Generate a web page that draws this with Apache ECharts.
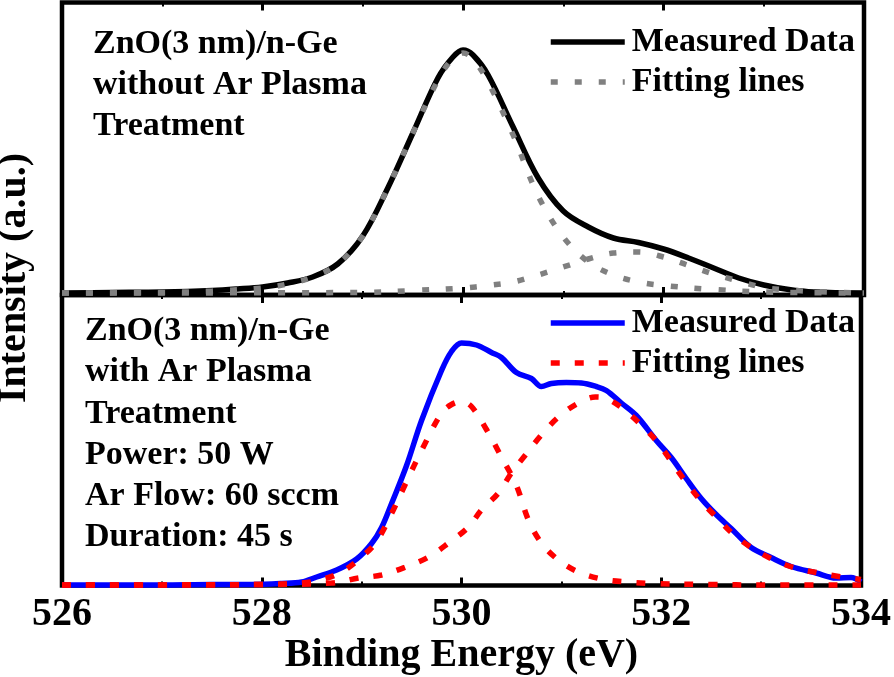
<!DOCTYPE html>
<html><head><meta charset="utf-8">
<script src="https://cdn.jsdelivr.net/npm/echarts@6/dist/echarts.min.js"></script>
<style>html,body{margin:0;padding:0;background:#fff}#c{width:894px;height:677px}</style>
</head><body><div id="c"></div><script>
// ---------- data (binding energy in eV, intensity in arbitrary units) ----------
const topMeasE = [526,526.5,527,527.5,527.75,528,528.25,528.5,528.75,529,529.25,529.5,529.75,529.9,530,530.1,530.25,530.5,530.75,531,531.25,531.5,531.75,532,532.25,532.5,532.75,533,533.25,533.5,534];
const topMeasI = [2,2.5,3,4.5,6,8,12,18,31,59,107,162,217,238,245,240,220,168,117,84,68,57,52.5,46,37,27,17,10,5.5,3,2];

const topFit1E = [526,527,527.5,528,528.25,528.5,528.75,529,529.25,529.5,529.75,529.9,530,530.1,530.25,530.5,530.75,531,531.25,531.5,531.75,532,532.5,533,534];
const topFit1I = [2,2.5,4,7,11,18,31,59,107,162,215,237,242,236,213,160,99,58,33,20,13,9.5,5.5,3,2];

const topFit2E = [526,529,529.5,530,530.25,530.5,530.75,531,531.25,531.5,531.75,532,532.25,532.5,532.75,533,533.25,533.5,534];
const topFit2I = [2,2.5,4.5,7,9.5,13,20,28,36,42,43,38,29.5,21,14,7.5,5,3.5,2];

const botMeasE = [526,526.5,527,527.5,527.9,528.2,528.4,528.55,528.75,528.95,529.1,529.2,529.3,529.45,529.6,529.8,529.9,530,530.15,530.3,530.4,530.55,530.7,530.8,530.9,531.05,531.2,531.35,531.45,531.6,531.75,531.95,532.1,532.25,532.4,532.55,532.7,532.9,533.1,533.3,533.55,533.75,533.9,534];
const botMeasI = [0.5,0.5,0.5,1,1,2,3.5,8.5,15.5,26.5,42,58,82,120,165,215,234,242.5,240.5,233,228,213,207,199,202,203,202.5,199,195,182.5,170,145,128,107,87,71,57,38,28,19,12.5,7.5,8,3.5];

const botFit1E = [526,527,528,528.4,528.6,528.8,529,529.15,529.3,529.45,529.6,529.8,529.9,530,530.1,530.25,530.4,530.55,530.67,530.8,530.97,531.17,531.4,531.65,531.9,532.5,533,534];
const botFit1I = [0.5,0.5,1,2.5,6,13.5,28.5,44,72,104,135,172.5,181,184,179,156,128.5,100,65.5,42.5,25.5,13.5,6.5,3.5,2,1,0.5,0.5];

const botFit2E = [526,528,528.7,528.97,529.2,529.44,529.67,529.87,530.07,530.2,530.37,530.5,530.64,530.8,530.97,531.17,531.34,531.45,531.62,531.8,531.97,532.11,532.24,532.39,532.56,532.73,532.91,533.13,533.34,533.58,533.81,534];
const botFit2I = [0.5,1,2.5,7.5,10.5,18.5,28.5,42.5,58.5,75.5,92.5,112.5,130.5,150.5,168.5,182.5,188.5,187,176.5,160.5,142.5,122.5,104.5,85.5,67.5,50.5,37.5,25.5,17.5,12.5,8.5,6];

const xMin = 526, xMax = 534, xStep = 2;
const legendText = {topMeas:'Measured Data', topFit:'Fitting lines', botMeas:'Measured Data', botFit:'Fitting lines'};
const topNote = ['ZnO(3 nm)/n-Ge','without Ar Plasma','Treatment'];
const botNote = ['ZnO(3 nm)/n-Ge','with Ar Plasma','Treatment','Power: 50 W','Ar Flow: 60 sccm','Duration: 45 s'];
const xTitle = 'Binding Energy (eV)';
const yTitle = 'Intensity (a.u.)';

// ---------- chart ----------
const FONT = "'Liberation Serif','Times New Roman',serif";
const zip = (a,b) => a.map((v,i)=>[v,b[i]]);
const chart = echarts.init(document.getElementById('c'), null, {renderer:'canvas'});

function mkX(gi, pos, labels){
  return {
    type:'value', gridIndex:gi, position:pos, min:xMin, max:xMax, interval:xStep,
    axisLine:{show:false},
    axisTick:{show:true, inside:true, length:8, lineStyle:{color:'#000', width:3}},
    minorTick:{show:true, splitNumber:2, length:4, lineStyle:{color:'#000', width:2}},
    splitLine:{show:false}, minorSplitLine:{show:false},
    axisLabel: labels ? {show:true, margin:9, color:'#000', fontSize:40, fontWeight:'bold', fontFamily:FONT} : {show:false},
    name: labels ? xTitle : '', nameLocation:'middle', nameGap:50,
    nameTextStyle:{color:'#000', fontSize:40, fontWeight:'bold', fontFamily:FONT}
  };
}
function ln(name, gi, e, v, color, width, type){
  return {
    type:'line', name, xAxisIndex:gi*2, yAxisIndex:gi, data:zip(e,v),
    symbol:'none', showSymbol:false, smooth:0.35,
    lineStyle:{color, width, type, cap:'butt'}, itemStyle:{color},
    emphasis:{disabled:true}, animation:false
  };
}
const legTS = {color:'#000', fontSize:34, fontWeight:'bold', fontFamily:FONT, lineHeight:30, padding:[0,0,0,2]};
const NOTE_FONT = "bold 34px " + FONT;
const graphics = [];
topNote.forEach((t,i)=>graphics.push({type:'text', x:93, y:44+i*41, style:{text:t, font:NOTE_FONT, fill:'#000', verticalAlign:'middle', align:'left'}}));
botNote.forEach((t,i)=>graphics.push({type:'text', x:85, y:331.5+i*41.2, style:{text:t, font:NOTE_FONT, fill:'#000', verticalAlign:'middle', align:'left'}}));
graphics.push({type:'text', x:15, y:278, rotation:Math.PI/2, style:{text:yTitle, font:"bold 40px "+FONT, fill:'#000', verticalAlign:'middle', align:'center'}});

const legBase = {left:548, orient:'vertical', padding:0, itemGap:6, itemWidth:74, itemHeight:14, selectedMode:false,
  formatter:n=>legendText[n], textStyle:legTS, itemStyle:{opacity:0}, lineStyle:{width:5.5}};

chart.setOption({
  animation:false,
  backgroundColor:'#fff',
  grid:[
    {left:62, right:30, top:2.5, height:292.5, show:true, borderColor:'#000', borderWidth:4.5},
    {left:62, right:30, top:295, height:290.5, show:true, borderColor:'#000', borderWidth:4.5}
  ],
  xAxis:[mkX(0,'bottom',false), mkX(0,'top',false), mkX(1,'bottom',true), mkX(1,'top',false)],
  yAxis:[
    {type:'value', gridIndex:0, min:0, max:292.5, show:false},
    {type:'value', gridIndex:1, min:0, max:290.5, show:false}
  ],
  legend:[
    Object.assign({}, legBase, {top:25, data:['topMeas','topFit']}),
    Object.assign({}, legBase, {top:306, data:['botMeas','botFit']})
  ],
  series:[
    ln('topMeas',0,topMeasE,topMeasI,'#000000',5.5,'solid'),
    ln('topFit',0,topFit1E,topFit1I,'#808080',5.5,[7,17]),
    ln('topFit',0,topFit2E,topFit2I,'#808080',5.5,[7,17]),
    ln('botMeas',1,botMeasE,botMeasI,'#0000ff',5.5,'solid'),
    ln('botFit',1,botFit1E,botFit1I,'#ff0000',5.5,[9,15]),
    ln('botFit',1,botFit2E,botFit2I,'#ff0000',5.5,[9,15])
  ],
  graphic:graphics
});
</script></body></html>
